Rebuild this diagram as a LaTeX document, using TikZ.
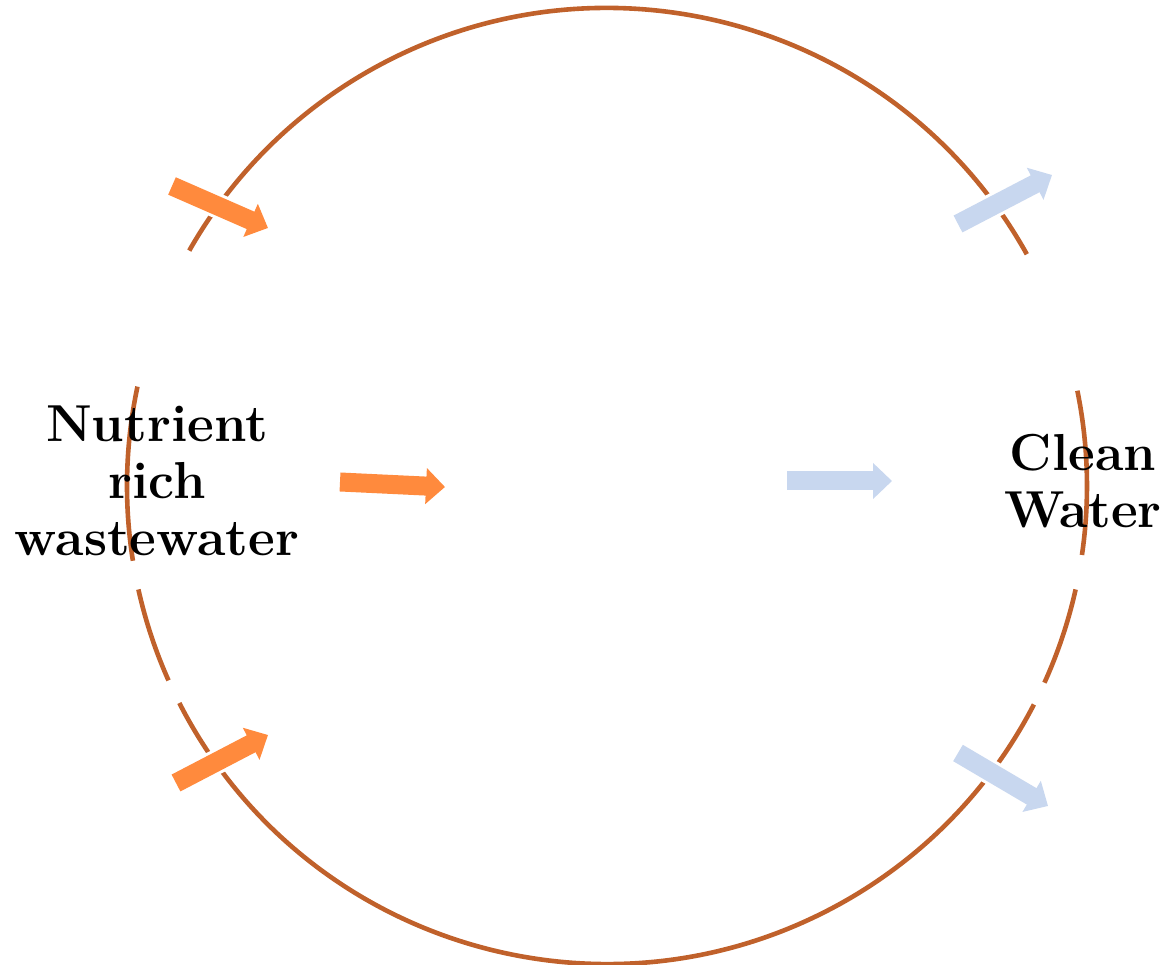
\documentclass[tikz,border=0pt]{standalone}
\usepackage{xcolor}
\usepackage{tikz}
\usetikzlibrary{positioning,arrows.meta}

\definecolor{ringbrown}{HTML}{C0612B}
\definecolor{inorange}{HTML}{FF8A3D}
\definecolor{outblue}{HTML}{C8D7EF}

\begin{document}
\begin{tikzpicture}[x=1pt, y=1pt,
  ring/.style={draw=ringbrown, line width=4.6pt},
  flow/.style={line width=19pt,
    -{Triangle[length=19pt, width=35pt]},
    preaction={draw=white, line width=25pt, -}},
  flow in/.style={flow, draw=inorange, fill=inorange},
  flow out/.style={flow, draw=outblue, fill=outblue},
  label/.style={align=center, inner sep=0pt,
    font=\fontsize{52}{57}\selectfont\bfseries}]

\useasboundingbox (0,0) rectangle (1162,965);

\coordinate (ctr) at (607,479);

% the ring, broken where the pictures overlap it
\foreach \a/\b in {29/150.5, 168/189, 192.5/204, 207/332.8, 335.7/347.5, 351.7/371.5}
  \draw [ring] (ctr) ++(\a:480 and 478)
    arc [start angle=\a, end angle=\b, x radius=480, y radius=478];

% inflow arrows
\coordinate (in-1-tail) at (172,779);
\coordinate (in-1-tip)  at (268,737);
\coordinate (in-2-tail) at (340,483);
\coordinate (in-2-tip)  at (445,478);
\coordinate (in-3-tail) at (176,182);
\coordinate (in-3-tip)  at (268,230);

% outflow arrows
\coordinate (out-1-tail) at (958,741);
\coordinate (out-1-tip)  at (1052,790);
\coordinate (out-2-tail) at (787,484);
\coordinate (out-2-tip)  at (892,484);
\coordinate (out-3-tail) at (958,212);
\coordinate (out-3-tip)  at (1048,159);

\foreach \i in {1,...,3}
  \draw [flow in] (in-\i-tail) -- (in-\i-tip);

\foreach \i in {1,...,3}
  \draw [flow out] (out-\i-tail) -- (out-\i-tip);

\node [label] (source) at (157,484) {Nutrient\\rich\\wastewater};
\node [label] (sink) at (1083,484) {Clean\\Water};

\end{tikzpicture}
\end{document}
